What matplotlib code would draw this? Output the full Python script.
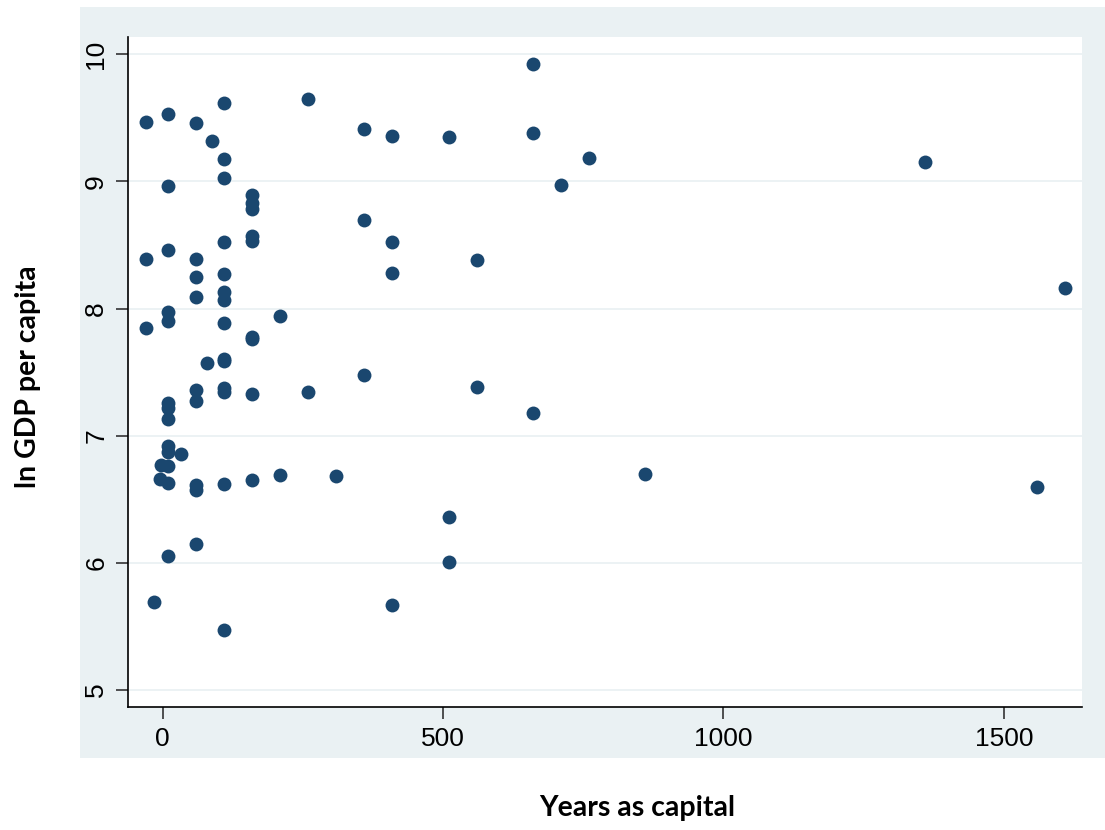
import matplotlib.pyplot as plt
from matplotlib.patches import Rectangle

# years as capital vs log GDP per capita
years = [-30, -30, -30,
         10, 10, 10, 10, 10, 10, 10, 10, 10, 10, 10, 10, 10,
         -2, -5, 33, -15,
         60, 60, 60, 60, 60, 60, 60, 60, 60,
         80, 88,
         110, 110, 110, 110, 110, 110, 110, 110, 110, 110, 110, 110, 110, 110,
         160, 160, 160, 160, 160, 160, 160, 160, 160,
         210, 210, 260, 260, 310,
         360, 360, 360,
         410, 410, 410, 410,
         510, 510, 510,
         560, 560,
         660, 660, 660,
         710, 760, 860, 1360, 1560, 1610]
ln_gdp = [9.47, 8.39, 7.85,
          9.53, 8.96, 8.46, 7.97, 7.90, 7.26, 7.22, 7.13, 6.92, 6.87, 6.76, 6.63, 6.05,
          6.77, 6.66, 6.855, 5.69,
          9.46, 8.39, 8.25, 8.09, 7.36, 7.27, 6.61, 6.575, 6.15,
          7.57, 9.32,
          9.62, 9.18, 9.03, 8.52, 8.27, 8.13, 8.07, 7.89, 7.60, 7.585, 7.377, 7.345, 6.62, 5.47,
          8.89, 8.83, 8.78, 8.57, 8.53, 7.78, 7.76, 7.33, 6.65,
          7.94, 6.69, 9.65, 7.34, 6.68,
          9.41, 8.70, 7.48,
          9.36, 8.52, 8.28, 5.665,
          9.35, 6.36, 6.01,
          8.38, 7.38,
          9.92, 9.38, 7.18,
          8.97, 9.185, 6.70, 9.15, 6.60, 8.165]

xticks = [0, 500, 1000, 1500]
yticks = [5, 6, 7, 8, 9, 10]

bg = '#EAF1F3'
navy = '#1A476F'

fig = plt.figure(figsize=(11.05, 8.3), dpi=100)
fig.patches.append(Rectangle((80 / 1105, 1 - 758 / 830), 1025 / 1105, 751 / 830,
                             transform=fig.transFigure, facecolor=bg, edgecolor='none', zorder=-5))

ax = fig.add_axes([128.3 / 1105, 1 - 707.3 / 830, 954 / 1105, 670.6 / 830])
ax.set_zorder(2)
ax.set_facecolor('white')
ax.scatter(years, ln_gdp, s=100, c=navy, linewidths=0, zorder=3)

ax.set_xlim(-61, 1640)
ax.set_ylim(4.864, 10.138)
ax.set_xticks(xticks)
ax.set_yticks(yticks)
ax.set_yticklabels([str(t) for t in yticks], rotation=90, va='center')
ax.grid(axis='y', color=bg, linewidth=1.3, zorder=1)
ax.grid(axis='x', visible=False)

for s in ['top', 'right']:
    ax.spines[s].set_visible(False)
for s in ['left', 'bottom']:
    ax.spines[s].set_color('black')
    ax.spines[s].set_linewidth(1.2)

ax.tick_params(axis='both', direction='out', length=8.5, width=1.2, color='#333333',
               labelsize=19, pad=6)
for lab in ax.get_xticklabels() + ax.get_yticklabels():
    lab.set_fontfamily('Liberation Sans')

fig.text(637 / 1105, 1 - 808 / 830, 'Years as capital', ha='center', va='center',
         fontsize=20.5, fontweight='bold', family='Lato')
fig.text(28 / 1105, 1 - 377 / 830, 'ln GDP per capita', ha='center', va='center',
         rotation=90, fontsize=20.5, fontweight='bold', family='Lato')

fig.savefig('out.png', dpi=100)
